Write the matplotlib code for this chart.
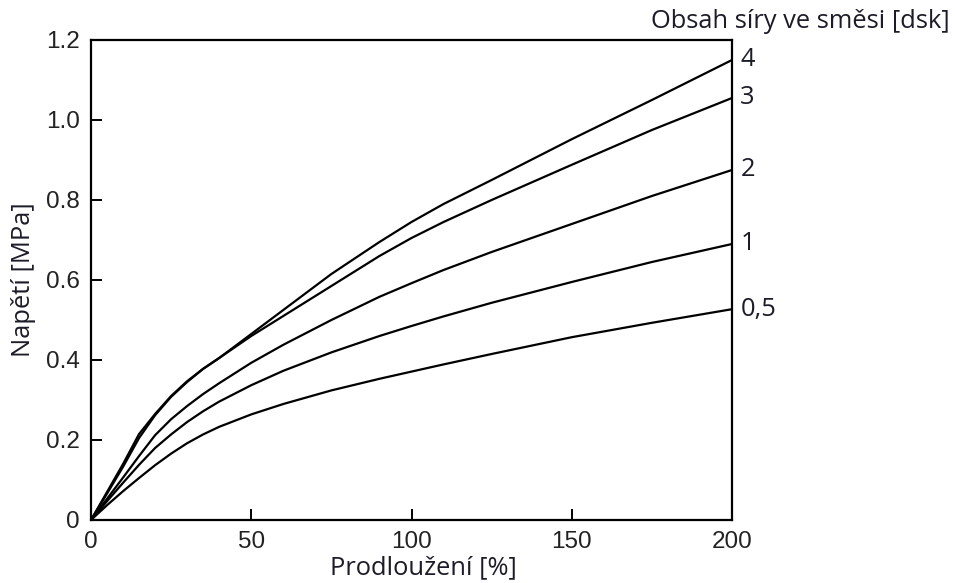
import matplotlib
matplotlib.use("Agg")
import matplotlib.pyplot as plt

strain = [0, 5, 10, 15, 20, 25, 30, 35, 40, 50, 60, 75, 90, 100, 110, 125, 150, 175, 200]
s4 = [0, 0.07, 0.14, 0.215, 0.265, 0.31, 0.347, 0.378, 0.405, 0.465, 0.525, 0.615, 0.695, 0.745, 0.79, 0.85, 0.952, 1.05, 1.15]
s3 = [0, 0.066, 0.133, 0.205, 0.262, 0.308, 0.345, 0.378, 0.405, 0.46, 0.51, 0.585, 0.66, 0.705, 0.745, 0.80, 0.888, 0.975, 1.055]
s2 = [0, 0.053, 0.106, 0.16, 0.212, 0.252, 0.285, 0.315, 0.342, 0.393, 0.438, 0.50, 0.558, 0.592, 0.625, 0.67, 0.74, 0.81, 0.875]
s1 = [0, 0.047, 0.093, 0.138, 0.18, 0.214, 0.245, 0.272, 0.296, 0.337, 0.373, 0.419, 0.46, 0.485, 0.509, 0.543, 0.595, 0.645, 0.69]
s05 = [0, 0.037, 0.072, 0.105, 0.137, 0.166, 0.192, 0.214, 0.233, 0.264, 0.29, 0.324, 0.353, 0.371, 0.389, 0.415, 0.457, 0.493, 0.527]
series = [s4, s3, s2, s1, s05]
series_labels = ["4", "3", "2", "1", "0,5"]

xticks = [0, 50, 100, 150, 200]
yticks = [0, 0.2, 0.4, 0.6, 0.8, 1.0, 1.2]
ytick_labels = ["0", "0.2", "0.4", "0.6", "0.8", "1.0", "1.2"]

label_font = "Open Sans"
txt_color = "#1c1c28"
fs = 18.4

fig = plt.figure(figsize=(9.55, 5.83), dpi=100)
ax = fig.add_axes([91/955, 1 - 520/583, (732-91)/955, (520-40)/583])

for s in series:
    ax.plot(strain, s, color="black", lw=1.6, solid_joinstyle="round")

ax.set_xlim(0, 200)
ax.set_ylim(0, 1.2)
ax.set_xticks(xticks)
ax.set_xticklabels([str(t) for t in xticks])
ax.set_yticks(yticks)
ax.set_yticklabels(ytick_labels)
ax.tick_params(direction="in", length=8, width=1.4, labelsize=17.5,
               colors="black", pad=8)
for lab in ax.get_xticklabels() + ax.get_yticklabels():
    lab.set_fontfamily("Liberation Sans")
    lab.set_color("#222222")
for sp in ax.spines.values():
    sp.set_linewidth(1.6)

for s, lab in zip(series, series_labels):
    ax.annotate(lab, xy=(strain[-1], s[-1]), xytext=(6, 0), textcoords="offset points",
                ha="left", va="center", fontsize=fs, family=label_font,
                color=txt_color, annotation_clip=False)

fig.text(950/955, 1 - 22/583, "Obsah síry ve směsi [dsk]", ha="right", va="center",
         fontsize=fs, family=label_font, color=txt_color)
fig.text(423/955, 1 - 568/583, "Prodloužení [%]", ha="center", va="center",
         fontsize=fs, family=label_font, color=txt_color)
fig.text(24/955, 1 - 280/583, "Napětí [MPa]", ha="center", va="center", rotation=90,
         fontsize=fs, family=label_font, color=txt_color)

fig.savefig("out.png", dpi=100, facecolor="white")
